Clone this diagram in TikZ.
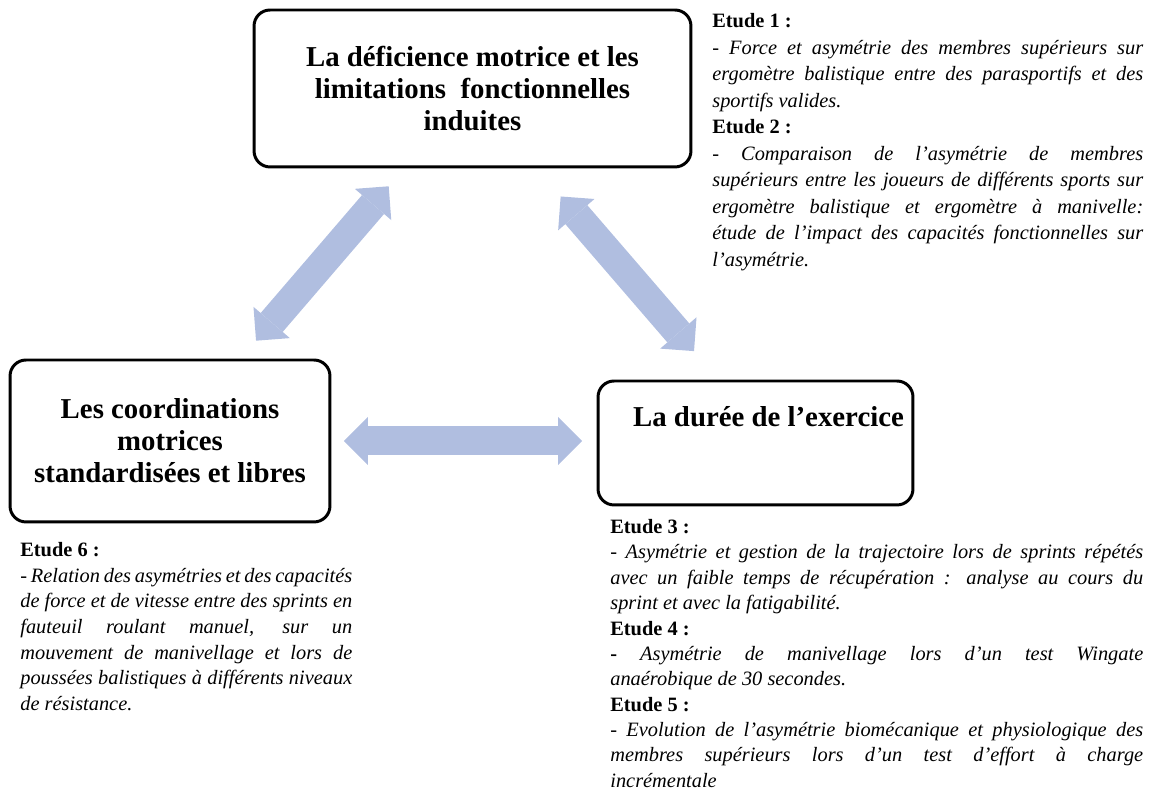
\documentclass[tikz,border=0pt]{standalone}
\usepackage{fontspec}
\setmainfont{Liberation Serif}
\usetikzlibrary{arrows.meta}
\definecolor{arrowblue}{RGB}{176,190,224}
\begin{document}
\begin{tikzpicture}[x=0.02cm, y=0.02cm,
  heading/.style={align=center, font=\fontsize{16.4}{18.3}\selectfont\bfseries},
  box/.style={heading, draw, line width=1.7pt, rounded corners=0.32cm, inner sep=0pt},
  study/.style={anchor=north west, inner sep=0pt, align=justify, font=\fontsize{11.6}{#1}\selectfont},
  study/.default=15,
  fat/.style={draw=arrowblue, line width=0.58cm,
    {Triangle[width=0.96cm,length=0.48cm,line width=0pt]}-{Triangle[width=0.96cm,length=0.48cm,line width=0pt]}}]
\useasboundingbox (0,0) rectangle (1153,793);
\node[box, minimum width=8.74cm, minimum height=3.14cm] (defic) at (472.5,704.5){La déficience motrice et les\\limitations~~fonctionnelles\\induites};
\node[box, minimum width=6.4cm, minimum height=3.24cm] (coord) at (170,352){Les coordinations\\motrices\\standardisées et libres};
\node[box, minimum width=6.3cm, minimum height=2.48cm] (dur) at (755.5,350){};
\node[heading] (durtitle) at (768.5,376){La durée de l’exercice};
\draw[fat, shorten <=0.47cm, shorten >=0.47cm] (coord) -- (defic);
\draw[fat, shorten <=0.25cm, shorten >=0.29cm] (coord.east) -- (coord.east -| dur.west);
\draw[fat, shorten <=0.74cm, shorten >=0.75cm] ([xshift=1.28cm]defic.south) -- ([xshift=-0.74cm]dur.north);
\node[study=15.1, text width=8.62cm] (etude12) at (712,780){\textbf{Etude 1 :}\\
\textit{- Force et asymétrie des membres supérieurs sur\linebreak ergomètre balistique entre des parasportifs et des\linebreak sportifs valides.}\\
\textbf{Etude 2 :}\\
\textit{- Comparaison de l’asymétrie de membres\linebreak supérieurs entre les joueurs de différents sports sur\linebreak ergomètre balistique et ergomètre à manivelle:\linebreak étude de l’impact des capacités fonctionnelles sur\linebreak l’asymétrie.}};
\node[study=14.6, text width=6.64cm] (etude6) at (20,251){\textbf{Etude 6 :}\\
\textit{- Relation des asymétries et des capacités\linebreak de force et de vitesse entre des sprints en\linebreak fauteuil roulant manuel, sur un\linebreak mouvement de manivellage et lors de\linebreak poussées balistiques à différents niveaux\linebreak de résistance.}};
\node[study=14.45, text width=10.66cm] (etude345) at (610,274){\textbf{Etude 3 :}\\
\textit{- Asymétrie et gestion de la trajectoire lors de sprints répétés\linebreak avec un faible temps de récupération~: analyse au cours du\linebreak sprint et avec la fatigabilité.}\\
\textbf{Etude 4 :}\\
\textbf{-} \textit{Asymétrie de manivellage lors d’un test Wingate\linebreak anaérobique de 30 secondes.}\\
\textbf{Etude 5 :}\\
\textit{- Evolution de l’asymétrie biomécanique et physiologique des\linebreak membres supérieurs lors d’un test d’effort à charge\linebreak incrémentale}};
\end{tikzpicture}
\end{document}
